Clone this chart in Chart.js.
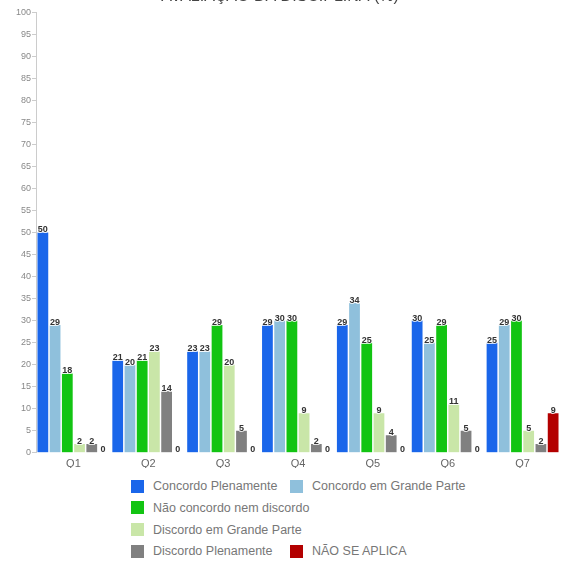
<!DOCTYPE html>
<html><head><meta charset="utf-8">
<script src="https://cdn.jsdelivr.net/npm/chart.js@4.4.1/dist/chart.umd.min.js"></script>
<style>
html,body{margin:0;padding:0;background:#fff;width:562px;height:565px;overflow:hidden;position:relative;font-family:"Liberation Sans",Arial,sans-serif;}
#wrap{position:absolute;left:0;top:-15px;width:562px;height:483px;}
#legend{position:absolute;left:131px;top:479.5px;width:420px;display:grid;grid-template-columns:159px 220px;row-gap:8.8px;font-size:12.5px;color:#777;}
.li{display:flex;align-items:center;height:13px;white-space:nowrap;}
.sw{width:13px;height:13px;margin-right:9px;flex:none;}
</style></head><body>
<div id="wrap"><canvas id="c"></canvas></div>
<div id="legend"></div>
<script>
const titleText = "AVALIAÇÃO DA DISCIPLINA (%)";
const categories = ["Q1","Q2","Q3","Q4","Q5","Q6","Q7"];
const seriesNames = ["Concordo Plenamente","Concordo em Grande Parte","Não concordo nem discordo","Discordo em Grande Parte","Discordo Plenamente","NÃO SE APLICA"];
const concordoPlenamente = [50,21,23,29,29,30,25];
const concordoGrandeParte = [29,20,23,30,34,25,29];
const naoConcordoNemDiscordo = [18,21,29,30,25,29,30];
const discordoGrandeParte = [2,23,20,9,9,11,5];
const discordoPlenamente = [2,14,5,2,4,5,2];
const naoSeAplica = [0,0,0,0,0,0,9];
const colors = ["#1a66ea","#8fc0dc","#12c412","#c9e6a8","#808080","#b30000"];
const seriesValues = [concordoPlenamente,concordoGrandeParte,naoConcordoNemDiscordo,discordoGrandeParte,discordoPlenamente,naoSeAplica];

const labelPlugin = {
  id:'vals',
  afterDatasetsDraw(chart){
    const ctx = chart.ctx;
    ctx.save();
    ctx.font = "bold 9px 'Liberation Sans', Arial, sans-serif";
    ctx.textAlign = 'center';
    ctx.textBaseline = 'bottom';
    chart.data.datasets.forEach((ds,i)=>{
      const meta = chart.getDatasetMeta(i);
      meta.data.forEach((bar,j)=>{
        const v = ds.data[j];
        const x = bar.x + (v===0 ? -1 : 0);
        const y = v===0 ? bar.y + 1 : bar.y + 2;
        ctx.lineWidth = 2; ctx.strokeStyle = 'rgba(255,255,255,0.8)';
        ctx.strokeText(String(v), x, y);
        ctx.fillStyle = '#333';
        ctx.fillText(String(v), x, y);
      });
    });
    ctx.restore();
  }
};

new Chart(document.getElementById('c'), {
  type:'bar',
  data:{
    labels:categories,
    datasets: seriesNames.map((n,i)=>({label:n,data:seriesValues[i],backgroundColor:colors[i],barPercentage:0.88,categoryPercentage:0.98}))
  },
  options:{
    responsive:true, maintainAspectRatio:false, animation:false,
    layout:{padding:{left:0,right:2,top:0,bottom:0}},
    plugins:{
      legend:{display:false},
      tooltip:{enabled:false},
      title:{display:true,text:titleText,color:'#444',font:{family:"'Liberation Sans', Arial, sans-serif",size:16,weight:'normal'},padding:{top:2,bottom:6}}
    },
    scales:{
      x:{grid:{display:false},border:{display:false},ticks:{color:'#666',font:{family:"'Liberation Sans', Arial, sans-serif",size:11},padding:-3}},
      y:{min:0,max:100,
        ticks:{stepSize:5,color:'#888',font:{family:"'Liberation Sans', Arial, sans-serif",size:9},padding:1},
        grid:{drawOnChartArea:false,drawTicks:true,tickLength:4,color:'#ccc'},
        border:{display:true,color:'#ccc'},
        afterFit(s){s.width=36;}
      }
    }
  },
  plugins:[labelPlugin]
});

const lg = document.getElementById('legend');
const order = [[0,1],[2,null],[3,null],[4,5]];
order.forEach(row=>{
  row.forEach(i=>{
    const d = document.createElement('div'); d.className='li';
    if(i!==null){ d.innerHTML = '<span class="sw" style="background:'+colors[i]+'"></span><span>'+seriesNames[i]+'</span>'; }
    lg.appendChild(d);
  });
});
</script>
</body></html>
